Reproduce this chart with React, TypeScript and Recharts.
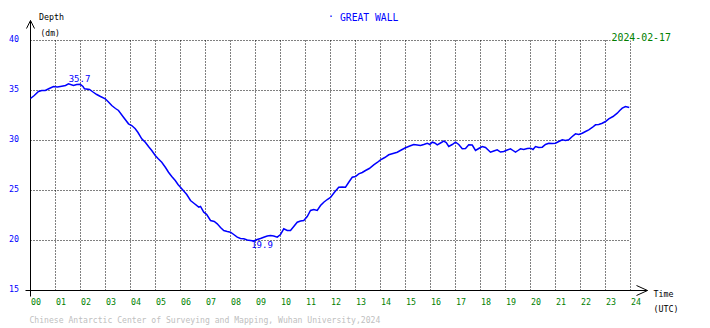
import React from "react";
import { LineChart, Line, XAxis, YAxis, CartesianGrid, ReferenceLine, ReferenceDot } from "recharts";

const hours = [
  0.0, 0.15, 0.32, 0.45, 0.59, 0.75, 0.92, 1.08, 1.25, 1.4, 1.52, 1.72, 1.85, 1.99, 2.1, 2.16, 2.36, 2.5, 2.65, 2.8,
  2.99, 3.1, 3.25, 3.4, 3.52, 3.72, 3.92, 4.05, 4.19, 4.3, 4.45, 4.6, 4.72, 4.85, 4.99, 5.1, 5.25, 5.4, 5.52, 5.65,
  5.79, 5.9, 6.05, 6.25, 6.4, 6.55, 6.73, 6.8, 6.93, 7.05, 7.2, 7.35, 7.47, 7.6, 7.73, 7.87, 8.0, 8.13, 8.27, 8.4,
  8.53, 8.67, 8.8, 8.93, 9.07, 9.2, 9.33, 9.47, 9.6, 9.73, 9.87, 10.0, 10.13, 10.27, 10.4, 10.53, 10.67, 10.8, 10.93, 11.07,
  11.2, 11.33, 11.47, 11.6, 11.73, 11.87, 12.0, 12.15, 12.33, 12.47, 12.6, 12.75, 12.87, 13.0, 13.13, 13.27, 13.4, 13.55, 13.73, 13.87,
  14.0, 14.17, 14.33, 14.5, 14.67, 14.83, 15.0, 15.17, 15.33, 15.47, 15.6, 15.73, 15.87, 15.97, 16.07, 16.17, 16.27, 16.4, 16.53, 16.63,
  16.73, 16.87, 17.0, 17.13, 17.27, 17.4, 17.53, 17.67, 17.8, 17.93, 18.07, 18.2, 18.4, 18.53, 18.67, 18.8, 18.93, 19.07, 19.2, 19.3,
  19.4, 19.5, 19.6, 19.73, 19.87, 20.0, 20.1, 20.2, 20.33, 20.47, 20.6, 20.73, 20.87, 21.0, 21.13, 21.27, 21.4, 21.53, 21.67, 21.8,
  21.93, 22.07, 22.2, 22.33, 22.47, 22.6, 22.73, 22.87, 23.0, 23.13, 23.3, 23.47, 23.57, 23.67, 23.8, 23.95,
];

const depth = [
  34.2, 34.5, 34.9, 35.0, 35.0, 35.2, 35.4, 35.35, 35.43, 35.5, 35.67, 35.5, 35.6, 35.62, 35.4, 35.17, 35.1, 34.85, 34.6, 34.4,
  34.17, 33.9, 33.5, 33.2, 33.0, 32.33, 31.67, 31.5, 31.17, 30.8, 30.17, 29.8, 29.4, 29.0, 28.5, 28.2, 27.83, 27.3, 26.83, 26.4,
  26.0, 25.6, 25.17, 24.6, 24.0, 23.7, 23.33, 23.4, 22.83, 22.6, 22.0, 21.9, 21.67, 21.3, 21.0, 20.9, 20.83, 20.6, 20.33, 20.2,
  20.17, 20.05, 20.0, 19.95, 20.1, 20.2, 20.33, 20.45, 20.5, 20.45, 20.33, 20.6, 21.17, 21.0, 21.0, 21.4, 21.83, 21.95, 22.0, 22.4,
  23.0, 23.1, 23.0, 23.5, 23.83, 24.1, 24.3, 24.8, 25.33, 25.35, 25.33, 25.9, 26.33, 26.4, 26.67, 26.8, 27.0, 27.2, 27.57, 27.8,
  28.07, 28.3, 28.57, 28.7, 28.83, 29.05, 29.27, 29.45, 29.6, 29.55, 29.5, 29.6, 29.73, 29.6, 29.83, 29.75, 29.57, 29.75, 29.93, 29.8,
  29.4, 29.6, 29.83, 29.6, 29.17, 29.2, 29.57, 29.55, 29.0, 29.2, 29.4, 29.3, 28.83, 28.95, 29.07, 28.85, 28.9, 29.05, 29.17, 29.0,
  28.83, 29.0, 29.17, 29.1, 29.2, 29.23, 29.1, 29.4, 29.3, 29.33, 29.6, 29.73, 29.7, 29.73, 29.9, 30.07, 30.0, 30.07, 30.4, 30.67,
  30.6, 30.73, 30.9, 31.07, 31.3, 31.57, 31.6, 31.73, 31.9, 32.17, 32.4, 32.73, 33.0, 33.23, 33.4, 33.3,
];

const xTicks = [0, 1, 2, 3, 4, 5, 6, 7, 8, 9, 10, 11, 12, 13, 14, 15, 16, 17, 18, 19, 20, 21, 22, 23, 24];
const yTicks = [15, 20, 25, 30, 35, 40];

const maxMark = { h: 1.96, v: 35.7, label: "35.7" };
const minMark = { h: 9.26, v: 19.9, label: "19.9" };

const title = "GREAT WALL";
const dateText = "2024-02-17";
const footer = "Chinese Antarctic Center of Surveying and Mapping, Wuhan University,2024";

const data = hours.map((h, i) => ({ h, v: depth[i] }));

const FONT = "'DejaVu Sans Mono', monospace";
const BLUE = "#0000ff";
const GREEN = "#008000";

const renderXTick = (props: any) => {
  const { x, payload } = props;
  const s = String(payload.value).padStart(2, "0");
  return (
    <text key={`xt-${payload.value}`} x={x + 0.5} y={305} textAnchor="start" fill={GREEN} fontFamily={FONT} fontSize={8.3}>
      {s}
    </text>
  );
};

const renderYTick = (props: any) => {
  const { y, payload } = props;
  return (
    <text key={`yt-${payload.value}`} x={19} y={y + 1} textAnchor="end" fill={BLUE} fontFamily={FONT} fontSize={8.3}>
      {payload.value}
    </text>
  );
};

const MaxLabel = (props: any) => {
  const vb = props.viewBox || {};
  return (
    <text x={vb.x} y={vb.y - 2} textAnchor="middle" fill={BLUE} fontFamily={FONT} fontSize={9}>
      {maxMark.label}
    </text>
  );
};

const MinLabel = (props: any) => {
  const vb = props.viewBox || {};
  return (
    <text x={vb.x} y={vb.y + 6} textAnchor="middle" fill={BLUE} fontFamily={FONT} fontSize={9}>
      {minMark.label}
    </text>
  );
};

const axisStyle = { stroke: "#000", strokeWidth: 1 };

export default function App() {
  return (
    <div style={{ position: "absolute", left: 0, top: 0, width: 710, height: 328, background: "#fff" }}>
      <LineChart
        width={710}
        height={328}
        data={data}
        margin={{ top: 40.5, right: 79.5, bottom: 7.5, left: 0.5 }}
      >
        <CartesianGrid stroke="#000" strokeDasharray="1 2" />
        <XAxis
          dataKey="h"
          type="number"
          domain={[0, 24]}
          ticks={xTicks}
          height={30}
          axisLine={false}
          tickLine={false}
          tick={renderXTick}
          interval={0}
        />
        <YAxis
          type="number"
          domain={[15, 40]}
          ticks={yTicks}
          width={30}
          axisLine={false}
          tickLine={false}
          tick={renderYTick}
          interval={0}
        />
        <ReferenceLine segment={[{ x: -0.2, y: 15 }, { x: 24.68, y: 15 }]} ifOverflow="visible" {...axisStyle} />
        <ReferenceLine segment={[{ x: 0, y: 14.4 }, { x: 0, y: 42 }]} ifOverflow="visible" {...axisStyle} />
        <ReferenceLine segment={[{ x: 24.24, y: 15.5 }, { x: 24.68, y: 15 }]} ifOverflow="visible" {...axisStyle} />
        <ReferenceLine segment={[{ x: 24.24, y: 14.5 }, { x: 24.68, y: 15 }]} ifOverflow="visible" {...axisStyle} />
        <ReferenceLine segment={[{ x: -0.16, y: 41.2 }, { x: 0, y: 42 }]} ifOverflow="visible" {...axisStyle} />
        <ReferenceLine segment={[{ x: 0.16, y: 41.2 }, { x: 0, y: 42 }]} ifOverflow="visible" {...axisStyle} />
        <Line
          type="linear"
          dataKey="v"
          stroke={BLUE}
          strokeWidth={1.5}
          dot={false}
          isAnimationActive={false}
        />
        <ReferenceDot x={maxMark.h} y={maxMark.v} r={0} stroke="none" fill="none" ifOverflow="visible" label={<MaxLabel />} />
        <ReferenceDot x={minMark.h} y={minMark.v} r={0} stroke="none" fill="none" ifOverflow="visible" label={<MinLabel />} />
      </LineChart>
      <svg width={710} height={328} style={{ position: "absolute", left: 0, top: 0, pointerEvents: "none" }}>
        <text x={328} y={20} fill={BLUE} fontFamily={FONT} fontSize={9.7}>·</text>
        <text x={340} y={21} fill={BLUE} fontFamily={FONT} fontSize={9.7}>{title}</text>
        <rect x={610} y={30} width={64} height={10.5} fill="#fff" />
        <text x={611.5} y={41} fill={GREEN} fontFamily={FONT} fontSize={9.9}>{dateText}</text>
        <text x={39} y={19.5} fill="#000" fontFamily={FONT} fontSize={8.3}>Depth</text>
        <text x={40.5} y={36} fill="#000" fontFamily={FONT} fontSize={8}>(dm)</text>
        <text x={653.5} y={297} fill="#000" fontFamily={FONT} fontSize={8.3}>Time</text>
        <text x={653.5} y={312} fill="#000" fontFamily={FONT} fontSize={8.3}>(UTC)</text>
        <text x={29.5} y={323} fill="#c0c0c0" fontFamily={FONT} fontSize={8.1}>{footer}</text>
      </svg>
    </div>
  );
}
